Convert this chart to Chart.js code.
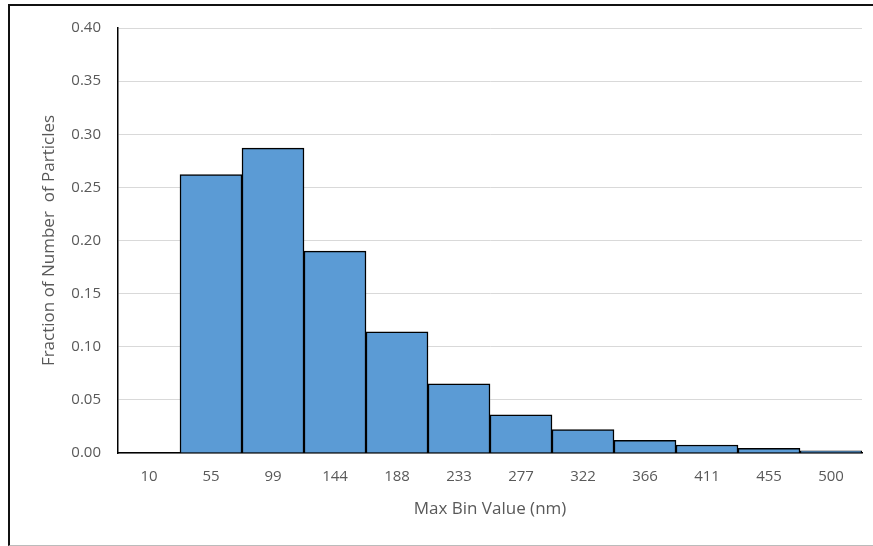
<!DOCTYPE html>
<html>
<head>
<meta charset="utf-8">
<script src="https://cdn.jsdelivr.net/npm/chart.js@4.4.0/dist/chart.umd.min.js"></script>
<style>
  html, body { margin: 0; padding: 0; background: #fff; }
  #wrap { position: relative; width: 873px; height: 546px; overflow: hidden; }
  #frame {
    position: absolute; left: 8px; top: 4px; width: 880px; height: 539px;
    border-left: 2px solid #111; border-top: 2px solid #111; border-bottom: 1px solid #bbb;
    pointer-events: none;
  }
  canvas { position: absolute; left: 0; top: 0; }
</style>
</head>
<body>
<div id="wrap">
  <canvas id="histChart" width="873" height="546"></canvas>
  <div id="frame"></div>
</div>
<script>
// Particle size histogram
const binLabels = ['10', '55', '99', '144', '188', '233', '277', '322', '366', '411', '455', '500'];
const fractions = [0, 0.262, 0.287, 0.190, 0.114, 0.065, 0.036, 0.022, 0.012, 0.0075, 0.0045, 0.002];

const textColor = '#595959';
const fontFamily = '"Open Sans", Lato, sans-serif';

const ctx = document.getElementById('histChart').getContext('2d');
new Chart(ctx, {
  type: 'bar',
  data: {
    labels: binLabels,
    datasets: [{
      label: 'Fraction',
      data: fractions,
      backgroundColor: '#5B9BD5',
      borderColor: '#000',
      borderWidth: 1.5,
      categoryPercentage: 1,
      barPercentage: 1
    }]
  },
  options: {
    responsive: false,
    animation: false,
    layout: { padding: { left: 39, right: 11, top: 28, bottom: 27 } },
    plugins: {
      legend: { display: false },
      tooltip: { enabled: false }
    },
    scales: {
      x: {
        grid: { display: false, drawTicks: false },
        border: { color: '#000', width: 1.5 },
        ticks: { color: textColor, font: { family: fontFamily, size: 15, lineHeight: 1.2 }, padding: 15 },
        title: {
          display: true,
          text: 'Max Bin Value (nm)',
          color: textColor,
          font: { family: fontFamily, size: 17, lineHeight: 1.2 },
          padding: 0
        },
        afterFit: (scale) => { scale.height = 66; }
      },
      y: {
        min: 0,
        max: 0.4,
        grid: { color: '#d9d9d9', drawTicks: false },
        border: { color: '#000', width: 1.5 },
        ticks: {
          stepSize: 0.05,
          color: textColor,
          font: { family: fontFamily, size: 15 },
          padding: 17,
          callback: (v) => v.toFixed(2)
        },
        title: {
          display: true,
          text: 'Fraction of Number  of Particles',
          color: textColor,
          font: { family: fontFamily, size: 17, lineHeight: 1.2 },
          padding: 0
        },
        afterFit: (scale) => { scale.width = 79; }
      }
    }
  }
});
</script>
</body>
</html>
